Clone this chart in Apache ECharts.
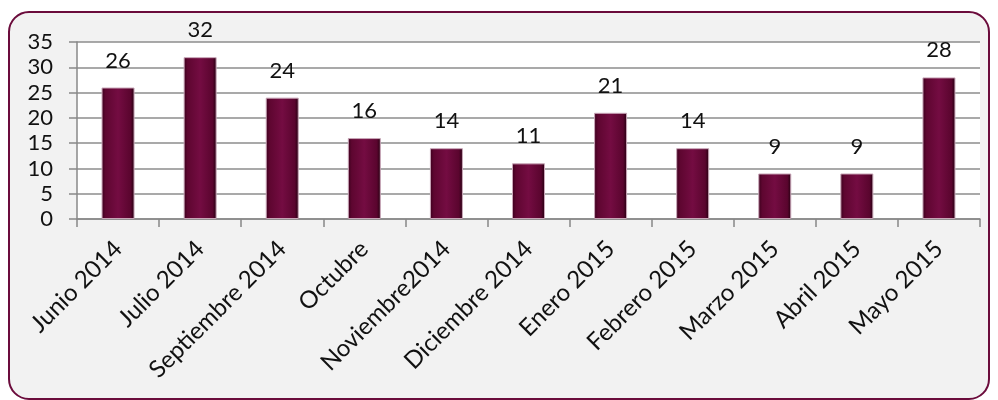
<!DOCTYPE html>
<html>
<head>
<meta charset="utf-8">
<script src="https://cdn.jsdelivr.net/npm/echarts@6/dist/echarts.min.js"></script>
<style>
  html, body { margin: 0; padding: 0; background: #fff; }
  #main { width: 998px; height: 400px; }
</style>
</head>
<body>
<div id="main"></div>
<script>
var meses = ['Junio 2014', 'Julio 2014', 'Septiembre 2014', 'Octubre', 'Noviembre2014',
    'Diciembre 2014', 'Enero 2015', 'Febrero 2015', 'Marzo 2015', 'Abril 2015', 'Mayo 2015'];
var valores = [26, 32, 24, 16, 14, 11, 21, 14, 9, 9, 28];

var fuente = 'Lato';

// degradado de las barras (borde oscuro, centro granate)
var colorBarra = new echarts.graphic.LinearGradient(0, 0, 1, 0, [
    { offset: 0, color: '#3a001c' },
    { offset: 0.12, color: '#5e0630' },
    { offset: 0.5, color: '#740c42' },
    { offset: 0.88, color: '#5a052e' },
    { offset: 1, color: '#22000f' }
]);

var option = {
    backgroundColor: '#fff',
    animation: false,
    graphic: [{
        type: 'rect',
        z: -10,
        shape: { x: 9, y: 12, width: 980, height: 387, r: 20 },
        style: { fill: '#f2f2f2', stroke: '#6b0c3c', lineWidth: 2 }
    }],
    grid: {
        left: 77,
        right: 18,
        top: 42,
        bottom: 181,
        show: true,
        backgroundColor: '#fff',
        borderWidth: 0
    },
    xAxis: {
        type: 'category',
        data: meses,
        axisLine: { lineStyle: { color: '#888', width: 1.5 } },
        axisTick: { show: true, length: 8, lineStyle: { color: '#888', width: 1.5 } },
        axisLabel: {
            rotate: 45,
            interval: 0,
            margin: 26,
            color: '#111',
            fontFamily: fuente,
            fontSize: 24
        }
    },
    yAxis: {
        type: 'value',
        min: 0,
        max: 35,
        interval: 5,
        axisLine: { show: true, lineStyle: { color: '#888', width: 1.5 } },
        axisTick: { show: true, length: 8, lineStyle: { color: '#888', width: 1.5 } },
        splitLine: { lineStyle: { color: '#8c8c8c', width: 1.5 } },
        axisLabel: {
            margin: 24,
            color: '#111',
            fontFamily: fuente,
            fontSize: 22
        }
    },
    series: [{
        type: 'bar',
        data: valores,
        barWidth: 33,
        itemStyle: {
            color: colorBarra,
            borderColor: '#c9a6b8',
            borderWidth: 1
        },
        label: {
            show: true,
            position: 'top',
            distance: 16,
            color: '#111',
            fontFamily: fuente,
            fontSize: 22
        }
    }]
};

var myChart = echarts.init(document.getElementById('main'));
myChart.setOption(option);
</script>
</body>
</html>
